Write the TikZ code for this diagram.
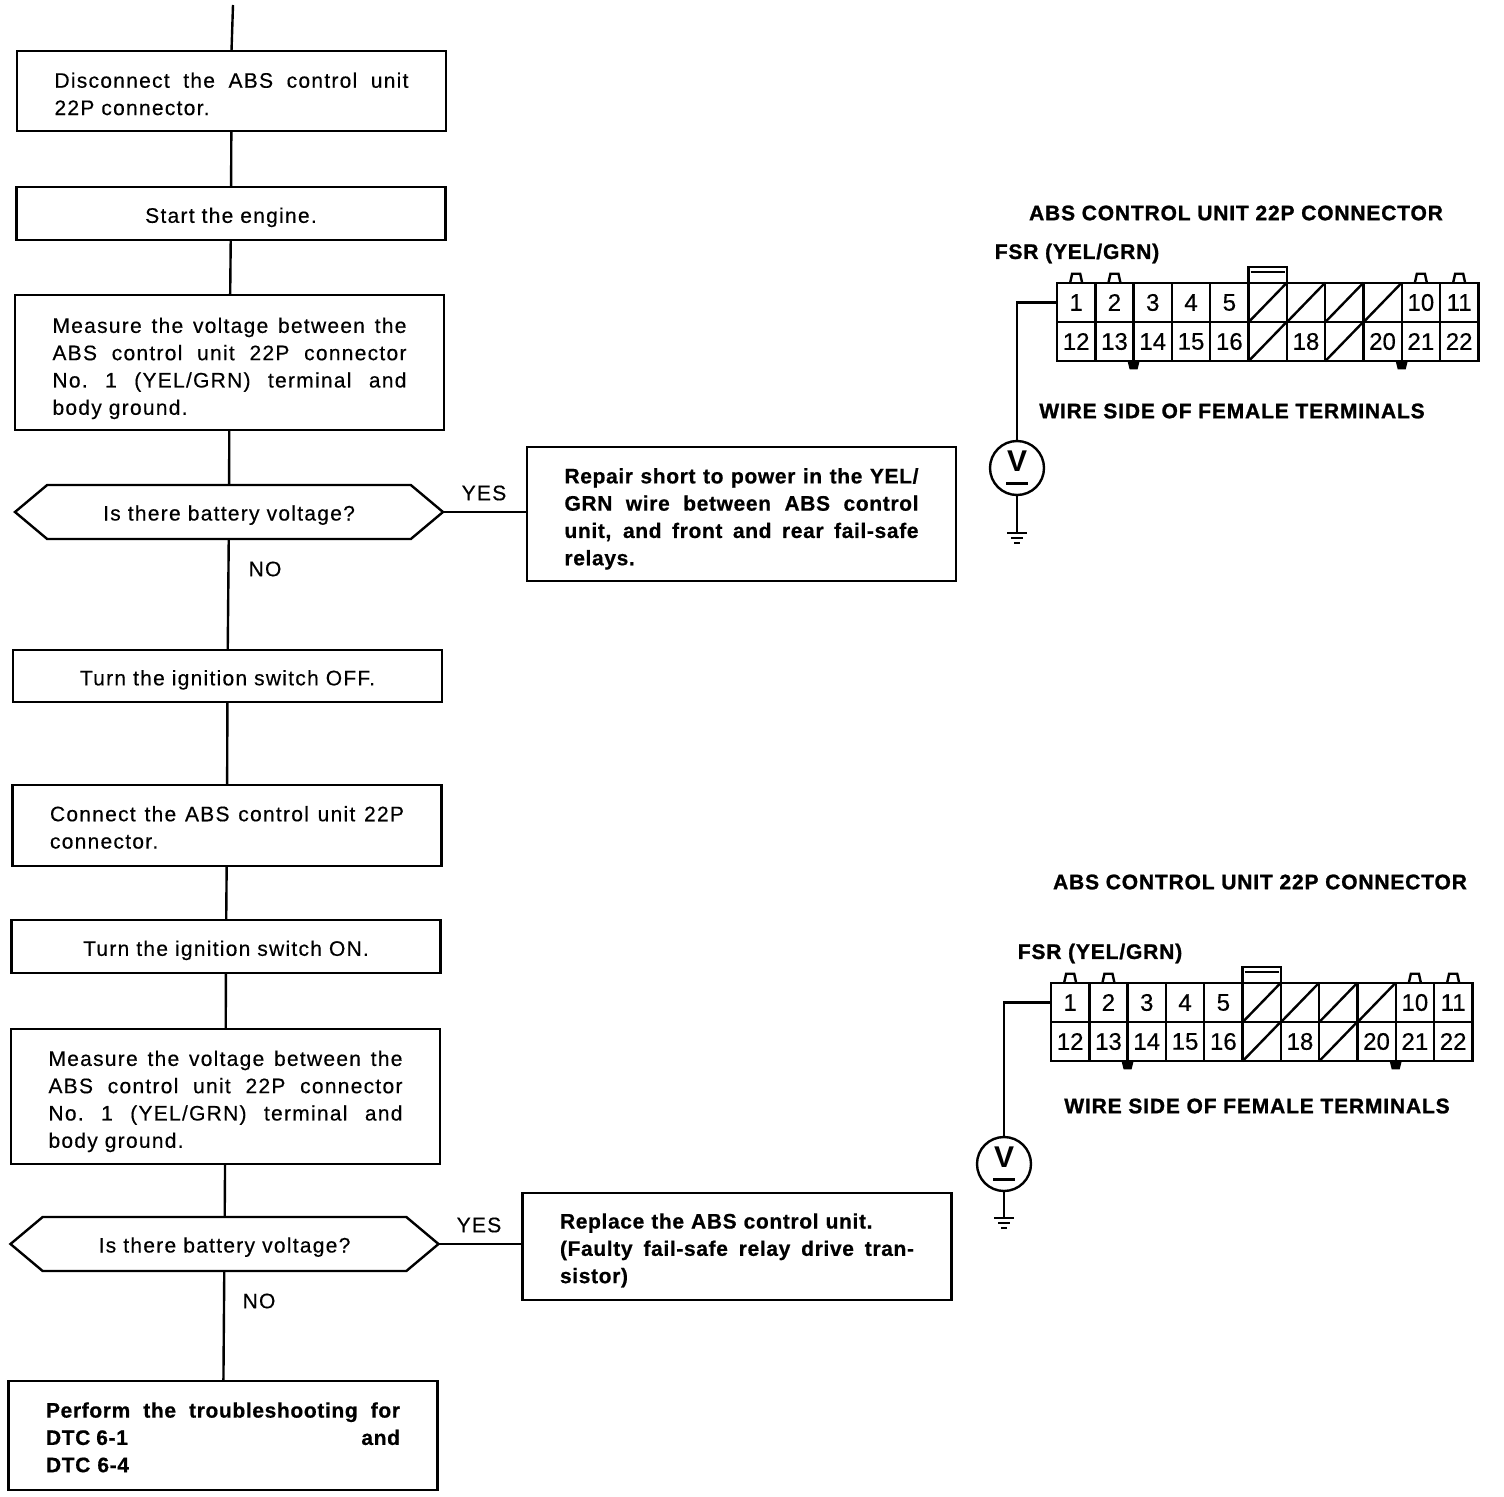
\documentclass[tikz,border=0pt]{standalone}
\usepackage{fontspec}
\setmainfont{Liberation Sans}[LetterSpace=6, UprightFeatures={FakeBold=0.4}, BoldFeatures={LetterSpace=3, FakeBold=0.6}]
\newfontfamily\cellfont{Liberation Sans}[UprightFeatures={FakeBold=0.4}]
\newfontfamily\capfont{Liberation Sans}[UprightFont=* Bold, FakeBold=1.2, LetterSpace=4]
\usetikzlibrary{positioning, shapes.symbols}

\def\dropby{23pt}
\newcommand{\jline}[1]{\makebox[354pt][s]{\spaceskip=.28em plus 1fil\xspaceskip=\spaceskip #1}}
\newcommand{\groundmark}[1]{%
  \draw[wire] (#1) ++(-10,0) -- ++(20,0);
  \draw[wire] (#1) ++(-6,5) -- ++(12,0);
  \draw[wire] (#1) ++(-3,10) -- ++(6,0);
}
\newcommand{\unitconn}[3]{%
  \begin{scope}[shift={(#2,#3)}]
    \foreach \n in {1,...,5,10,11}
      \node[cell] (#1-\n) at ({(\n-0.5)*38.3},19.5) {\n};
    \foreach \n in {6,...,9}{
      \node[cell] (#1-\n) at ({(\n-0.5)*38.3},19.5) {};
      \draw[wire] (#1-\n.south west) -- (#1-\n.north east);
    }
    \foreach \n in {12,...,16,18,20,21,22}
      \node[cell] (#1-\n) at ({(\n-11.5)*38.3},58.5) {\n};
    \foreach \n in {17,19}{
      \node[cell] (#1-\n) at ({(\n-11.5)*38.3},58.5) {};
      \draw[wire] (#1-\n.south west) -- (#1-\n.north east);
    }
    \foreach \n in {1,2,10,11}
      \draw[wire] (#1-\n.north) ++(-6,0) -- ++(2,-9) -- ++(8,0) -- ++(2,9);
    \foreach \n in {13,20}
      \fill (#1-\n.south east) ++(-6,0) -- ++(12,0) -- ++(-2,8) -- ++(-8,0) -- cycle;
    \draw[wire] (#1-6.north west) -- ++(0,-16) -- ++(38.3,0) -- ++(0,16);
    \draw[wire] (#1-6.north west) ++(2,-11) -- ++(34,0);
  \end{scope}
}

\begin{document}
\begin{tikzpicture}[
  x=1pt, y=-1pt,
  stepbox/.style={draw, line width=2.4pt, text width=354pt, inner xsep=37.5pt, inner ysep=0pt,
                  outer sep=0pt, align=left, font=\fontsize{21}{27.3}\selectfont,
                  execute at begin node={\rule{0pt}{\dropby}}},
  drop/.code={\def\dropby{#1}},
  askbox/.style={draw, line width=2.4pt, shape=signal, signal to=west and east,
                 signal pointer angle=80, minimum width=428pt, minimum height=54pt,
                 inner sep=0pt, outer sep=0pt, text height=17pt, text depth=0pt,
                 font=\fontsize{21}{25}\selectfont},
  fixbox/.style={stepbox, font=\fontsize{21}{27.3}\bfseries\selectfont},
  answer/.style={font=\fontsize{21}{25}\selectfont, inner sep=0pt},
  cell/.style={draw, line width=2.4pt, minimum width=38.3pt, minimum height=39.5pt,
               inner sep=0pt, outer sep=0pt, font=\cellfont\fontsize{24}{25}\selectfont},
  meter/.style={draw, circle, line width=2.4pt, minimum size=54pt, inner sep=0pt, outer sep=0pt,
                align=center, font=\cellfont\bfseries\fontsize{30}{25}\selectfont},
  caption/.style={inner sep=0pt, font=\capfont\fontsize{21}{24}\selectfont},
  wire/.style={line width=2.4pt},
]
\useasboundingbox (0,0) rectangle (1504,1496);

\coordinate (top) at (233,5);
\node[stepbox, drop=21pt, minimum height=80pt] (disc) at (231.5,91) {\jline{Disconnect the ABS control unit}\\22P connector.};
\node[stepbox, minimum height=53pt, align=center] (start) at (231,213.5) {Start the engine.};
\node[stepbox, drop=27pt, minimum height=135pt] (meas1) at (229.5,362.5) {\jline{Measure the voltage between the}\\\jline{ABS control unit 22P connector}\\\jline{No. 1 (YEL/GRN) terminal and}\\body ground.};
\node[askbox] (ask1) at (229,512) {Is there battery voltage?};
\node[fixbox, drop=25pt, minimum height=134pt] (fix1) at (741.5,514) {\jline{Repair short to power in the YEL/}\\\jline{GRN wire between ABS control}\\\jline{unit, and front and rear fail-safe}\\relays.};
\node[answer] (yes1) at (484,493) {YES};
\node[answer] (no1) at (265,569) {NO};
\node[stepbox, minimum height=52pt, align=center] (off) at (227.5,676) {Turn the ignition switch OFF.};
\node[stepbox, drop=19pt, minimum height=81pt] (conn) at (227,825.5) {\jline{Connect the ABS control unit 22P}\\connector.};
\node[stepbox, minimum height=53pt, align=center] (on) at (226,946.5) {Turn the ignition switch ON.};
\node[stepbox, drop=25pt, minimum height=135pt] (meas2) at (225.5,1096.5) {\jline{Measure the voltage between the}\\\jline{ABS control unit 22P connector}\\\jline{No. 1 (YEL/GRN) terminal and}\\body ground.};
\node[askbox] (ask2) at (224.5,1244) {Is there battery voltage?};
\node[fixbox, minimum height=107pt] (fix2) at (737,1246.5) {Replace the ABS control unit.\\\jline{(Faulty fail-safe relay drive tran-}\\sistor)};
\node[answer] (yes2) at (479,1225) {YES};
\node[answer] (no2) at (259,1301) {NO};
\node[fixbox, drop=19pt, minimum height=109pt] (last) at (223,1435.5) {\jline{Perform the troubleshooting for}\\\jline{DTC 6-1\hfill and}\\DTC 6-4};

\draw[wire] (top) -- (disc.north);
\draw[wire] (disc) -- (start);
\draw[wire] (start) -- (meas1);
\draw[wire] (meas1) -- (ask1);
\draw[wire] (ask1.east) -- (ask1.east -| fix1.west);
\draw[wire] (ask1) -- (off);
\draw[wire] (off) -- (conn);
\draw[wire] (conn) -- (on);
\draw[wire] (on) -- (meas2);
\draw[wire] (meas2) -- (ask2);
\draw[wire] (ask2.east) -- (ask2.east -| fix2.west);
\draw[wire] (ask2) -- (last);

\node[caption] (head1) at (1236,213) {ABS CONTROL UNIT 22P CONNECTOR};
\node[caption] (fsr1) at (1077,253.5) {FSR (YEL/GRN)};
\node[caption] (side1) at (1232,411) {WIRE SIDE OF FEMALE TERMINALS};
\unitconn{a}{1057}{283}
\node[meter] (v1) at (1017,468) {V\\[-12pt]\rule{22pt}{2.5pt}};
\coordinate (g1) at (1017,533);
\draw[wire] (a-1.west) -| (v1.north);
\draw[wire] (v1.south) -- (g1);
\groundmark{g1}

\node[caption] (head2) at (1260,882) {ABS CONTROL UNIT 22P CONNECTOR};
\node[caption] (fsr2) at (1100,953.5) {FSR (YEL/GRN)};
\node[caption] (side2) at (1257,1106) {WIRE SIDE OF FEMALE TERMINALS};
\unitconn{b}{1051}{983}
\node[meter] (v2) at (1004,1164) {V\\[-12pt]\rule{22pt}{2.5pt}};
\coordinate (g2) at (1004,1218);
\draw[wire] (b-1.west) -| (v2.north);
\draw[wire] (v2.south) -- (g2);
\groundmark{g2}
\end{tikzpicture}
\end{document}
